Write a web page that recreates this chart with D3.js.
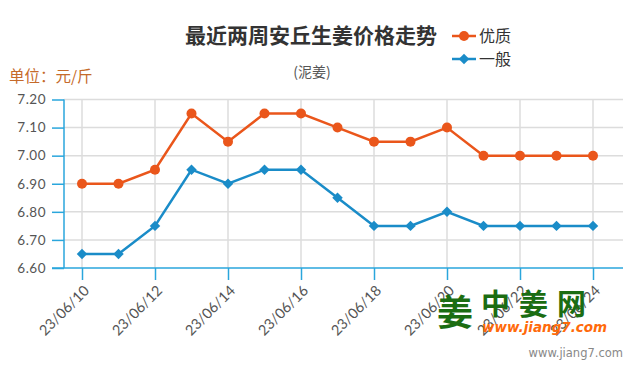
<!DOCTYPE html>
<html>
<head>
<meta charset="utf-8">
<script src="https://cdn.jsdelivr.net/npm/d3@7"></script>
<style>
body { margin: 0; background: #fff; }
svg { display: block; font-family: "Noto Sans CJK SC", "DejaVu Sans", sans-serif; }
</style>
</head>
<body>
<div id="container"><svg></svg></div>
<script>
let dates = ['23/06/10','23/06/11','23/06/12','23/06/13','23/06/14','23/06/15','23/06/16','23/06/17',
             '23/06/18','23/06/19','23/06/20','23/06/21','23/06/22','23/06/23','23/06/24'];
let good = [6.90, 6.90, 6.95, 7.15, 7.05, 7.15, 7.15, 7.10, 7.05, 7.05, 7.10, 7.00, 7.00, 7.00, 7.00];
let normal = [6.65, 6.65, 6.75, 6.95, 6.90, 6.95, 6.95, 6.85, 6.75, 6.75, 6.80, 6.75, 6.75, 6.75, 6.75];
let yTicks = [6.60, 6.70, 6.80, 6.90, 7.00, 7.10, 7.20];
let seriesNames = ['优质', '一般'];

let width = 635, height = 375;
let orange = '#ea561b', blue = '#1a8cc8', axisColor = '#2aa6dc';

let svg = d3.select('svg').attr('width', width).attr('height', height);

let x = d3.scalePoint().domain(dates).range([82, 593]);
let y = d3.scaleLinear().domain([6.6, 7.2]).range([268, 99.5]);

// grid
svg.append('g')
    .selectAll('line')
    .data(yTicks.slice(1))
    .enter().append('line')
    .attr('x1', 64).attr('x2', 623)
    .attr('y1', d => y(d)).attr('y2', d => y(d))
    .attr('stroke', '#dcdcdc').attr('stroke-width', 1.5);

let tickDates = dates.filter((d, i) => i % 2 == 0);
svg.append('g')
    .selectAll('line')
    .data(tickDates)
    .enter().append('line')
    .attr('x1', d => x(d)).attr('x2', d => x(d))
    .attr('y1', 99.5).attr('y2', 268)
    .attr('stroke', '#dcdcdc').attr('stroke-width', 1.5);

// y axis
let axis_y = d3.axisLeft(y).tickValues(yTicks).tickSize(12).tickPadding(6)
    .tickFormat(d3.format('.2f'));
let gy = svg.append('g')
    .attr('transform', 'translate(64,0)')
    .call(axis_y);
gy.select('.domain').remove();
gy.selectAll('line').attr('stroke', axisColor).attr('stroke-width', 1.5);
gy.selectAll('text').attr('fill', '#555').attr('font-size', '13.5px')
    .attr('font-family', 'Lato, "DejaVu Sans", sans-serif').attr('letter-spacing', '0.5px');
svg.append('line')
    .attr('x1', 64).attr('x2', 64).attr('y1', 99.5).attr('y2', 268)
    .attr('stroke', axisColor).attr('stroke-width', 1.5);

// x axis
let axis_x = d3.axisBottom(x).tickValues(tickDates).tickSize(12);
let gx = svg.append('g')
    .attr('transform', 'translate(0,268)')
    .call(axis_x);
gx.select('.domain').remove();
gx.selectAll('line').attr('stroke', axisColor).attr('stroke-width', 1.5);
gx.selectAll('text')
    .attr('fill', '#555').attr('font-size', '14.5px')
    .attr('font-family', 'Lato, "DejaVu Sans", sans-serif')
    .attr('text-anchor', 'end')
    .attr('x', 0).attr('y', 0).attr('dy', '0.35em')
    .attr('transform', 'translate(4,20) rotate(-45)');
svg.append('line')
    .attr('x1', 52).attr('x2', 623).attr('y1', 268).attr('y2', 268)
    .attr('stroke', axisColor).attr('stroke-width', 1.5);

// lines
let line = d3.line().x((d, i) => x(dates[i])).y(d => y(d));
svg.append('path').datum(good).attr('d', line)
    .attr('fill', 'none').attr('stroke', orange).attr('stroke-width', 2.5);
svg.append('path').datum(normal).attr('d', line)
    .attr('fill', 'none').attr('stroke', blue).attr('stroke-width', 2.5);

svg.append('g').selectAll('circle')
    .data(good).enter().append('circle')
    .attr('cx', (d, i) => x(dates[i])).attr('cy', d => y(d))
    .attr('r', 5).attr('fill', orange);

let diamond = d3.symbol().type(d3.symbolDiamond2).size(70);
svg.append('g').selectAll('path')
    .data(normal).enter().append('path')
    .attr('d', diamond)
    .attr('transform', (d, i) => `translate(${x(dates[i])},${y(d)})`)
    .attr('fill', blue);

// titles
svg.append('text')
    .attr('x', 311).attr('y', 43)
    .attr('text-anchor', 'middle')
    .attr('font-size', '21px').attr('font-weight', 'bold').attr('fill', '#333')
    .text('最近两周安丘生姜价格走势');
svg.append('text')
    .attr('x', 312).attr('y', 77)
    .attr('text-anchor', 'middle')
    .attr('font-size', '14px').attr('fill', '#555')
    .text('(泥姜)');
svg.append('text')
    .attr('x', 9).attr('y', 82)
    .attr('font-size', '15.5px').attr('fill', '#c56a2a')
    .text('单位：元/斤');

// legend
let legend = svg.append('g');
let colors = [orange, blue];
seriesNames.forEach((name, i) => {
    let ly = 36 + i * 23;
    legend.append('line')
        .attr('x1', 452).attr('x2', 476).attr('y1', ly).attr('y2', ly)
        .attr('stroke', colors[i]).attr('stroke-width', 2.5);
    if (i == 0) {
        legend.append('circle').attr('cx', 464).attr('cy', ly).attr('r', 5).attr('fill', colors[i]);
    } else {
        legend.append('path').attr('d', diamond)
            .attr('transform', `translate(464,${ly})`).attr('fill', colors[i]);
    }
    legend.append('text')
        .attr('x', 479).attr('y', ly + 6)
        .attr('font-size', '16px').attr('fill', '#333')
        .text(name);
});

// watermark logo
let logo = svg.append('g');
logo.append('text')
    .attr('x', 437).attr('y', 326)
    .attr('font-size', '36px').attr('font-weight', 'bold').attr('fill', '#1b6d12')
    .text('姜');
logo.append('text')
    .attr('x', 481).attr('y', 315)
    .attr('font-size', '29px').attr('font-weight', 'bold').attr('fill', '#1b6d12')
    .attr('letter-spacing', '9px')
    .text('中姜网');
logo.append('text')
    .attr('x', 482).attr('y', 332)
    .attr('font-size', '13.5px').attr('font-weight', 'bold').attr('font-style', 'italic')
    .attr('fill', '#ff6a0a').attr('font-family', '"DejaVu Sans", sans-serif')
    .text('www.jiang7.com');
svg.append('text')
    .attr('x', 623).attr('y', 357)
    .attr('text-anchor', 'end')
    .attr('font-size', '11.5px').attr('fill', '#888')
    .attr('font-family', '"DejaVu Sans", sans-serif')
    .text('www.jiang7.com');
</script>
</body>
</html>
